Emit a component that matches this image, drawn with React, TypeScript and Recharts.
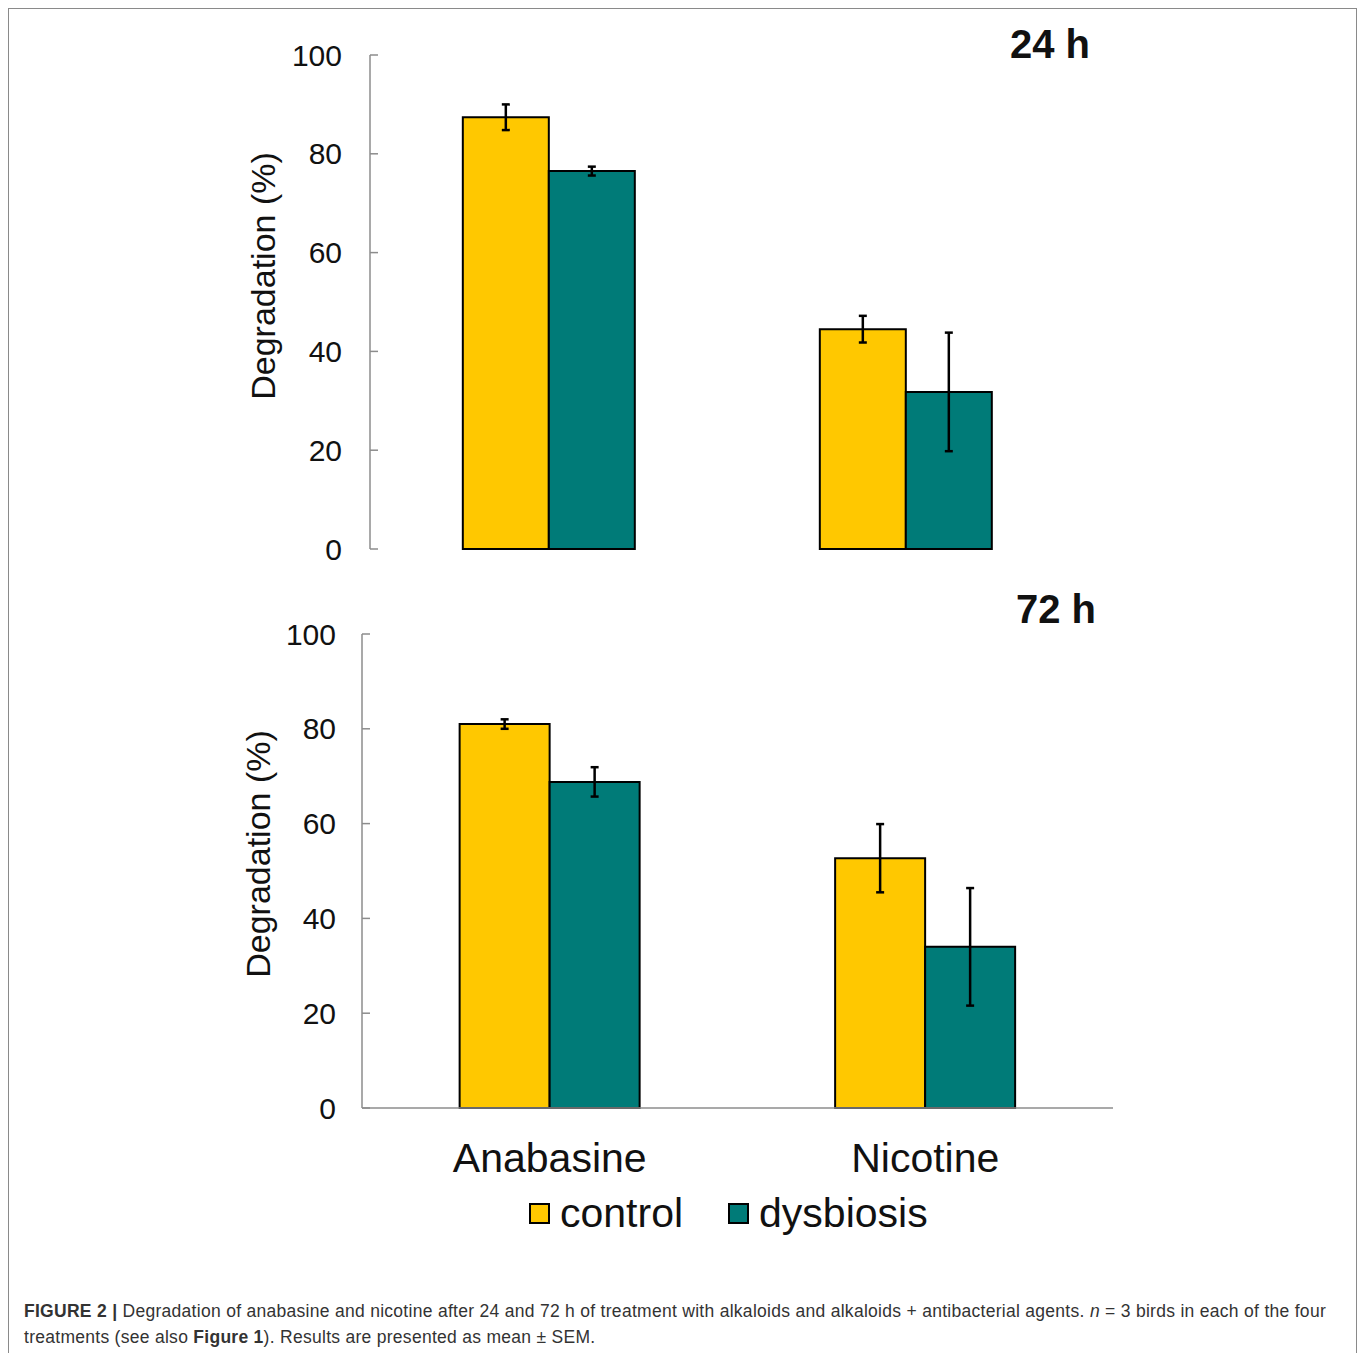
import { Bar, BarChart, ErrorBar, Label, XAxis, YAxis } from 'recharts'

const categories = ['Anabasine', 'Nicotine']
const seriesNames = ['control', 'dysbiosis']
const yTicks = [0, 20, 40, 60, 80, 100]

// 24 h (mean, SEM)
const control24 = [87.4, 44.5]
const control24Sem = [2.6, 2.7]
const dysbiosis24 = [76.5, 31.8]
const dysbiosis24Sem = [0.9, 12.0]

// 72 h (mean, SEM)
const control72 = [81.0, 52.7]
const control72Sem = [1.0, 7.2]
const dysbiosis72 = [68.8, 34.0]
const dysbiosis72Sem = [3.1, 12.4]

const COLORS: Record<string, string> = { control: '#ffc800', dysbiosis: '#007b78' }
const FONT = '"Liberation Sans", Arial, Helvetica, sans-serif'
const AXIS_GREY = '#8c8c8c'
const TEXT = '#111'

type Row = {
  name: string
  control: number
  controlSem: number
  dysbiosis: number
  dysbiosisSem: number
}

function buildRows(c: number[], cs: number[], d: number[], ds: number[]): Row[] {
  return categories.map((name, i) => ({
    name,
    control: c[i],
    controlSem: cs[i],
    dysbiosis: d[i],
    dysbiosisSem: ds[i],
  }))
}

const rows24 = buildRows(control24, control24Sem, dysbiosis24, dysbiosis24Sem)
const rows72 = buildRows(control72, control72Sem, dysbiosis72, dysbiosis72Sem)

type PanelProps = {
  data: Row[]
  top: number
  height: number
  margin: { top: number; right: number; bottom: number; left: number }
  xAxisHeight: number
  showCategories: boolean
  tickMargin: number
  labelDx: number
  labelDy: number
}

function Panel({ data, top, height, margin, xAxisHeight, showCategories, tickMargin, labelDx, labelDy }: PanelProps) {
  const renderYLabel = (props: any) => {
    const vb = props.viewBox || {}
    const cx = vb.x + vb.width - labelDx
    const cy = vb.y + vb.height / 2 + labelDy
    return (
      <text
        x={cx}
        y={cy}
        dy="0.36em"
        textAnchor="middle"
        transform={`rotate(-90, ${cx}, ${cy})`}
        fontSize={34}
        fontFamily={FONT}
        fill={TEXT}
      >
        Degradation (%)
      </text>
    )
  }

  return (
    <div style={{ position: 'absolute', left: 0, top }}>
      <BarChart width={1360} height={height} data={data} margin={margin} barCategoryGap="26%" barGap={0}>
        <XAxis
          dataKey="name"
          height={xAxisHeight}
          tick={showCategories ? { fontSize: 41, fill: TEXT, fontFamily: FONT } : false}
          tickLine={false}
          tickSize={0}
          tickMargin={35}
          axisLine={{ stroke: AXIS_GREY, strokeWidth: 1.5 }}
          interval={0}
        />
        <YAxis
          width={80}
          domain={[0, 100]}
          ticks={yTicks}
          interval={0}
          tick={{ fontSize: 30, fill: TEXT, fontFamily: FONT }}
          tickSize={-8}
          tickMargin={tickMargin}
          tickLine={{ stroke: AXIS_GREY, strokeWidth: 1.5 }}
          axisLine={{ stroke: AXIS_GREY, strokeWidth: 1.5 }}
        >
          <Label content={renderYLabel} />
        </YAxis>
        {seriesNames.map((s) => (
          <Bar key={s} dataKey={s} fill={COLORS[s]} stroke="#000" strokeWidth={2} isAnimationActive={false}>
            <ErrorBar
              dataKey={`${s}Sem`}
              direction="y"
              width={4}
              stroke="#000"
              strokeWidth={2.5}
              isAnimationActive={false}
            />
          </Bar>
        ))}
      </BarChart>
    </div>
  )
}

const titleStyle: React.CSSProperties = {
  position: 'absolute',
  fontFamily: FONT,
  fontWeight: 'bold',
  fontSize: 40,
  lineHeight: '40px',
  color: TEXT,
  whiteSpace: 'nowrap',
}

export default function App() {
  return (
    <div
      style={{
        position: 'absolute',
        left: 0,
        top: 0,
        width: 1360,
        height: 1353,
        overflow: 'hidden',
        background: '#fff',
        fontFamily: FONT,
      }}
    >
      <div
        style={{
          position: 'absolute',
          left: 8,
          top: 8,
          width: 1349,
          height: 1345,
          boxSizing: 'border-box',
          border: '1px solid #8a8a8a',
          borderBottom: 'none',
        }}
      />

      <Panel
        data={rows24}
        top={0}
        height={600}
        margin={{ top: 55, right: 276, bottom: 51, left: 290 }}
        xAxisHeight={0}
        showCategories={false}
        tickMargin={36}
        labelDx={107}
        labelDy={-26}
      />
      <div style={{ ...titleStyle, left: 1010, top: 24 }}>24 h</div>

      <Panel
        data={rows72}
        top={600}
        height={600}
        margin={{ top: 34, right: 247, bottom: 22, left: 282 }}
        xAxisHeight={70}
        showCategories={true}
        tickMargin={34}
        labelDx={104}
        labelDy={-17}
      />
      <div style={{ ...titleStyle, left: 1016, top: 589 }}>72 h</div>

      <div
        style={{
          position: 'absolute',
          left: 529,
          top: 1190,
          display: 'flex',
          alignItems: 'center',
          gap: 45,
          fontSize: 41,
          lineHeight: '46px',
          color: TEXT,
        }}
      >
        {seriesNames.map((s) => (
          <div key={s} style={{ display: 'flex', alignItems: 'center' }}>
            <span
              style={{
                display: 'inline-block',
                width: 21,
                height: 21,
                boxSizing: 'border-box',
                border: '2px solid #000',
                background: COLORS[s],
                marginRight: 10,
              }}
            />
            <span>{s}</span>
          </div>
        ))}
      </div>

      <div
        style={{
          position: 'absolute',
          left: 24,
          top: 1298,
          width: 1302,
          fontSize: 17.5,
          letterSpacing: 0.28,
          lineHeight: '26px',
          color: '#333',
        }}
      >
        <div style={{ textAlign: 'justify', textAlignLast: 'justify', whiteSpace: 'nowrap' }}>
          <b>FIGURE 2 |</b> Degradation of anabasine and nicotine after 24 and 72 h of treatment with alkaloids and
          alkaloids + antibacterial agents. <i>n</i> = 3 birds in each of the four
        </div>
        <div>
          treatments (see also <b>Figure 1</b>). Results are presented as mean ± SEM.
        </div>
      </div>
    </div>
  )
}
